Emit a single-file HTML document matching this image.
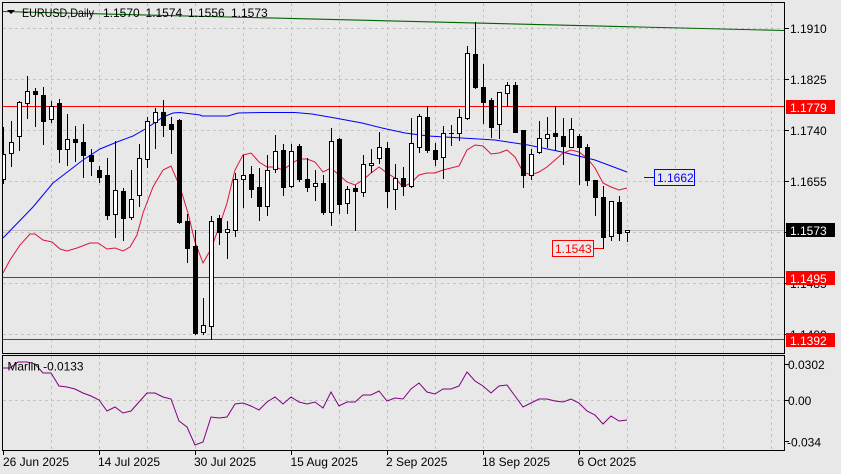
<!DOCTYPE html>
<html><head><meta charset="utf-8"><style>
html,body{margin:0;padding:0;background:#e8e8e8;width:841px;height:474px;overflow:hidden}
svg{display:block}
text{font-family:"Liberation Sans",sans-serif;font-size:12px;fill:#000}
</style></head><body>
<svg width="841" height="474" viewBox="0 0 841 474" xmlns="http://www.w3.org/2000/svg">
<defs>
<clipPath id="cm"><rect x="3" y="3" width="781" height="350"/></clipPath>
<clipPath id="ci"><rect x="3" y="356" width="781" height="94"/></clipPath>
</defs>
<rect x="0" y="0" width="841" height="474" fill="#e8e8e8"/>

<!-- grid -->
<g stroke="#c4c4c4" stroke-width="1" stroke-dasharray="3,3" fill="none">
<path d="M51.5 3V353M99.5 3V353M147.5 3V353M195.5 3V353M243.5 3V353M291.5 3V353M339.5 3V353M387.5 3V353M435.5 3V353M483.5 3V353M531.5 3V353M579.5 3V353M627.5 3V353M675.5 3V353M723.5 3V353M771.5 3V353"/>
<path d="M51.5 356V450M99.5 356V450M147.5 356V450M195.5 356V450M243.5 356V450M291.5 356V450M339.5 356V450M387.5 356V450M435.5 356V450M483.5 356V450M531.5 356V450M579.5 356V450M627.5 356V450M675.5 356V450M723.5 356V450M771.5 356V450"/>
<path d="M3 28.5H784M3 79.5H784M3 130.5H784M3 181.5H784M3 232.5H784M3 283.5H784M3 334.5H784"/>
<path d="M3 400.5H784"/>
</g>

<g clip-path="url(#cm)">
<!-- bid line -->
<path d="M3 230.5H784" stroke="#c0c0c0" stroke-width="1"/>
<!-- red levels -->
<path d="M3 106.5H784M3 277.5H784M3 339.5H784" stroke="#ff0000" stroke-width="1" shape-rendering="crispEdges"/>
<!-- green trend line -->
<path d="M3 11.5L784 30.5" stroke="#006400" stroke-width="1.1" fill="none"/>
<!-- blue MA -->
<polyline fill="none" stroke="#0000ff" stroke-width="1" points="3,238 33,207 53,183 83,160 100,149 117,142 133,136 147,128 163,117 173,113 180,112.5 200,115 202,116 228,116 238,113 262,112.5 295,112.5 312,114 335,118 362,123 382,128 405,133 428,136 462,138 495,140 528,145 562,152 595,160 627,172"/>
<!-- red MA -->
<polyline fill="none" stroke="#dc143c" stroke-width="1" points="3,273 10,260 20,245 30,234 35,234 43,240 52,242 60,249 67,251 77,248 90,243 98,243 107,249 115,248 123,251 130,247 137,235 143,213 153,187 163,170 171,166 180,187 188,213 195,242 203,263 211,249 219,227 227,203 235,170 243,155 251,153 259,162 267,167 275,167 283,170 291,164 299,159 307,159 315,162 323,172 331,168 339,175 347,182 355,185 363,180 371,173 379,167 387,173 395,178 403,187 411,183 419,175 427,173 435,173 443,170 451,168 459,166 467,150 475,145 483,146 491,154 499,153 507,150 515,157 523,172 531,175 539,172 547,167 555,160 563,153 571,150 579,152 587,158 595,168 603,183 611,187 619,190 627,188"/>
<!-- wicks -->
<path stroke="#000" stroke-width="1" fill="none" d="M3.5 127V184M11.5 121V167M19.5 101V151M27.5 76V119M35.5 88V127M43.5 87V145M51.5 101V123M59.5 99V163M67.5 114V166M75.5 126V162M83.5 124V178M91.5 149V176M99.5 166V183M107.5 158V220M115.5 141V238M123.5 188V241M131.5 170V220M139.5 144V207M147.5 117V168M155.5 108V149M163.5 100V137M171.5 117V154M179.5 119V224M187.5 214V263M195.5 230V335M203.5 298V335M211.5 216V340M219.5 215V245M227.5 221V259M235.5 173V237M243.5 155V208M251.5 166V198M259.5 168V221M267.5 155V216M275.5 135V173M283.5 144V196M291.5 144V188M299.5 144V182M307.5 158V192M315.5 170V201M323.5 175V215M331.5 128V226M339.5 138V214M347.5 186V214M355.5 185V231M363.5 155V197M371.5 149V173M379.5 132V164M387.5 142V208M395.5 164V210M403.5 167V196M411.5 118V188M419.5 114V153M427.5 106V153M435.5 143V166M443.5 126V179M451.5 125V146M459.5 109V141M467.5 46V120M475.5 22V89M483.5 64V124M491.5 98V138M499.5 92V139M507.5 82V107M515.5 82V133M523.5 130V188M531.5 149V180M539.5 121V154M547.5 117V148M555.5 106V151M563.5 118V165M571.5 118V148M579.5 134V185M587.5 144V186M595.5 180V216M603.5 186V249M611.5 201V241M619.5 196V241M627.5 230V242M449 133.5h5"/>
<!-- black bodies -->
<path fill="#000" d="M33 91h5v4h-5zM41 95h5v27h-5zM57 103h5v47h-5zM73 139h5v4h-5zM81 142h5v14h-5zM89 155h5v7h-5zM97 170h5v8h-5zM105 175h5v41h-5zM121 191h5v28h-5zM161 112h5v14h-5zM169 124h5v6h-5zM177 120h5v103h-5zM185 221h5v28h-5zM193 246h5v88h-5zM217 218h5v15h-5zM249 174h5v16h-5zM257 187h5v20h-5zM281 150h5v38h-5zM297 146h5v34h-5zM305 179h5v9h-5zM321 183h5v30h-5zM337 139h5v66h-5zM353 188h5v4h-5zM385 148h5v44h-5zM401 178h5v9h-5zM425 117h5v34h-5zM433 150h5v10h-5zM473 54h5v34h-5zM481 87h5v16h-5zM489 100h5v28h-5zM513 85h5v48h-5zM521 130h5v46h-5zM553 133h5v4h-5zM561 136h5v11h-5zM577 136h5v12h-5zM585 147h5v34h-5zM593 180h5v18h-5zM601 197h5v41h-5zM617 202h5v32h-5z"/>
<!-- white bodies -->
<path fill="#fff" stroke="#000" stroke-width="1" d="M1.5 154.5h4v25h-4zM9.5 142.5h4v11h-4zM17.5 102.5h4v34h-4zM25.5 91.5h4v12h-4zM49.5 106.5h4v13h-4zM65.5 139.5h4v10h-4zM113.5 190.5h4v24h-4zM129.5 199.5h4v18h-4zM137.5 158.5h4v37h-4zM145.5 121.5h4v38h-4zM153.5 112.5h4v10h-4zM201.5 325.5h4v7h-4zM209.5 221.5h4v105h-4zM225.5 229.5h4v3h-4zM233.5 179.5h4v51h-4zM241.5 175.5h4v4h-4zM265.5 170.5h4v36h-4zM273.5 151.5h4v18h-4zM289.5 151.5h4v35h-4zM313.5 183.5h4v3h-4zM329.5 141.5h4v71h-4zM345.5 189.5h4v14h-4zM361.5 164.5h4v28h-4zM369.5 163.5h4v2h-4zM377.5 147.5h4v11h-4zM393.5 178.5h4v11h-4zM409.5 143.5h4v43h-4zM417.5 116.5h4v31h-4zM441.5 133.5h4v24h-4zM457.5 117.5h4v16h-4zM465.5 53.5h4v65h-4zM497.5 92.5h4v32h-4zM505.5 85.5h4v8h-4zM529.5 154.5h4v21h-4zM537.5 138.5h4v14h-4zM545.5 134.5h4v4h-4zM569.5 129.5h4v18h-4zM609.5 201.5h4v35h-4zM625.5 230.5h4v2h-4z"/>
<!-- annotations -->
<path d="M644 177.5H654" stroke="#0000ff" stroke-width="1"/>
<rect x="654.5" y="169.5" width="40" height="16" fill="#e8e8e8" stroke="#0000ff" stroke-width="1"/>
<text x="657" y="182" style="fill:#0000ff">1.1662</text>
<path d="M593 248.5H603" stroke="#ff0000" stroke-width="1"/>
<rect x="552.5" y="240.5" width="41" height="16" fill="#e8e8e8" stroke="#ff0000" stroke-width="1"/>
<text x="555" y="253" style="fill:#ff0000">1.1543</text>
</g>

<!-- header -->
<path d="M7 10H15L11 14Z" fill="#000"/>
<text x="22" y="17" textLength="72" lengthAdjust="spacingAndGlyphs">EURUSD,Daily</text>
<text x="103" y="17">1.1570</text>
<text x="145.5" y="17">1.1574</text>
<text x="188" y="17">1.1556</text>
<text x="231" y="17">1.1573</text>

<!-- indicator -->
<g clip-path="url(#ci)">
<polyline fill="none" stroke="#800080" stroke-width="1" points="3,368 10,368 18,362 27,362 35,364 43,373 51,373 59,386 67,387 75,389 83,393 91,396 99,400 107,411 115,407 123,413 131,411 139,402 147,393 155,393 163,397 171,399 179,421 187,427 195,445 203,442 211,417 219,418 227,417 235,404 243,403 251,406 259,410 267,402 275,397 283,404 291,397 299,402 307,404 315,402 323,408 331,392 339,406 347,402 355,402 363,395 371,395 379,391 387,401 395,398 403,399 411,389 419,383 427,392 435,394 443,389 451,389 459,386 467,372 475,381 483,386 491,393 499,386 507,385 515,396 523,407 531,403 539,399 547,399 555,401 563,402 571,399 579,403 587,411 595,415 603,424 611,416 619,421 627,420"/>
</g>
<text x="7.5" y="370.5" textLength="76" lengthAdjust="spacingAndGlyphs">Marlin -0.0133</text>

<!-- frames -->
<rect x="2.5" y="2.5" width="782" height="351" fill="none" stroke="#000" stroke-width="1"/>
<rect x="2.5" y="355.5" width="782" height="95" fill="none" stroke="#000" stroke-width="1"/>

<!-- right axis ticks -->
<path stroke="#000" stroke-width="1" d="M784 28.5h5M784 79.5h5M784 130.5h5M784 181.5h5M784 232.5h5M784 283.5h5M784 334.5h5M784 364.5h5M784 400.5h5M784 441.5h5"/>
<!-- bottom ticks -->
<path stroke="#000" stroke-width="1" d="M3.5 450v5M99.5 450v5M195.5 450v5M291.5 450v5M387.5 450v5M483.5 450v5M579.5 450v5"/>

<!-- right axis labels -->
<text x="790" y="33">1.1910</text>
<text x="790" y="84">1.1825</text>
<text x="790" y="135">1.1740</text>
<text x="790" y="186">1.1655</text>
<text x="790" y="288">1.1485</text>
<text x="790" y="339">1.1400</text>

<rect x="786" y="100" width="49" height="14" fill="#ff0000"/>
<text x="790" y="112" style="fill:#fff">1.1779</text>
<rect x="786" y="223" width="49" height="14" fill="#000"/>
<text x="790" y="235" style="fill:#fff">1.1573</text>
<rect x="786" y="271" width="49" height="14" fill="#ff0000"/>
<text x="790" y="283" style="fill:#fff">1.1495</text>
<rect x="786" y="333" width="49" height="14" fill="#ff0000"/>
<text x="790" y="345" style="fill:#fff">1.1392</text>

<text x="788" y="369">0.0302</text>
<text x="788" y="405">0.00</text>
<text x="787" y="446.5">-0.034</text>

<!-- date labels -->
<text x="3" y="466">26 Jun 2025</text>
<text x="98" y="466">14 Jul 2025</text>
<text x="194" y="466">30 Jul 2025</text>
<text x="290.5" y="466">15 Aug 2025</text>
<text x="386" y="466">2 Sep 2025</text>
<text x="482" y="466">18 Sep 2025</text>
<text x="577.5" y="466">6 Oct 2025</text>
</svg>
</body></html>
